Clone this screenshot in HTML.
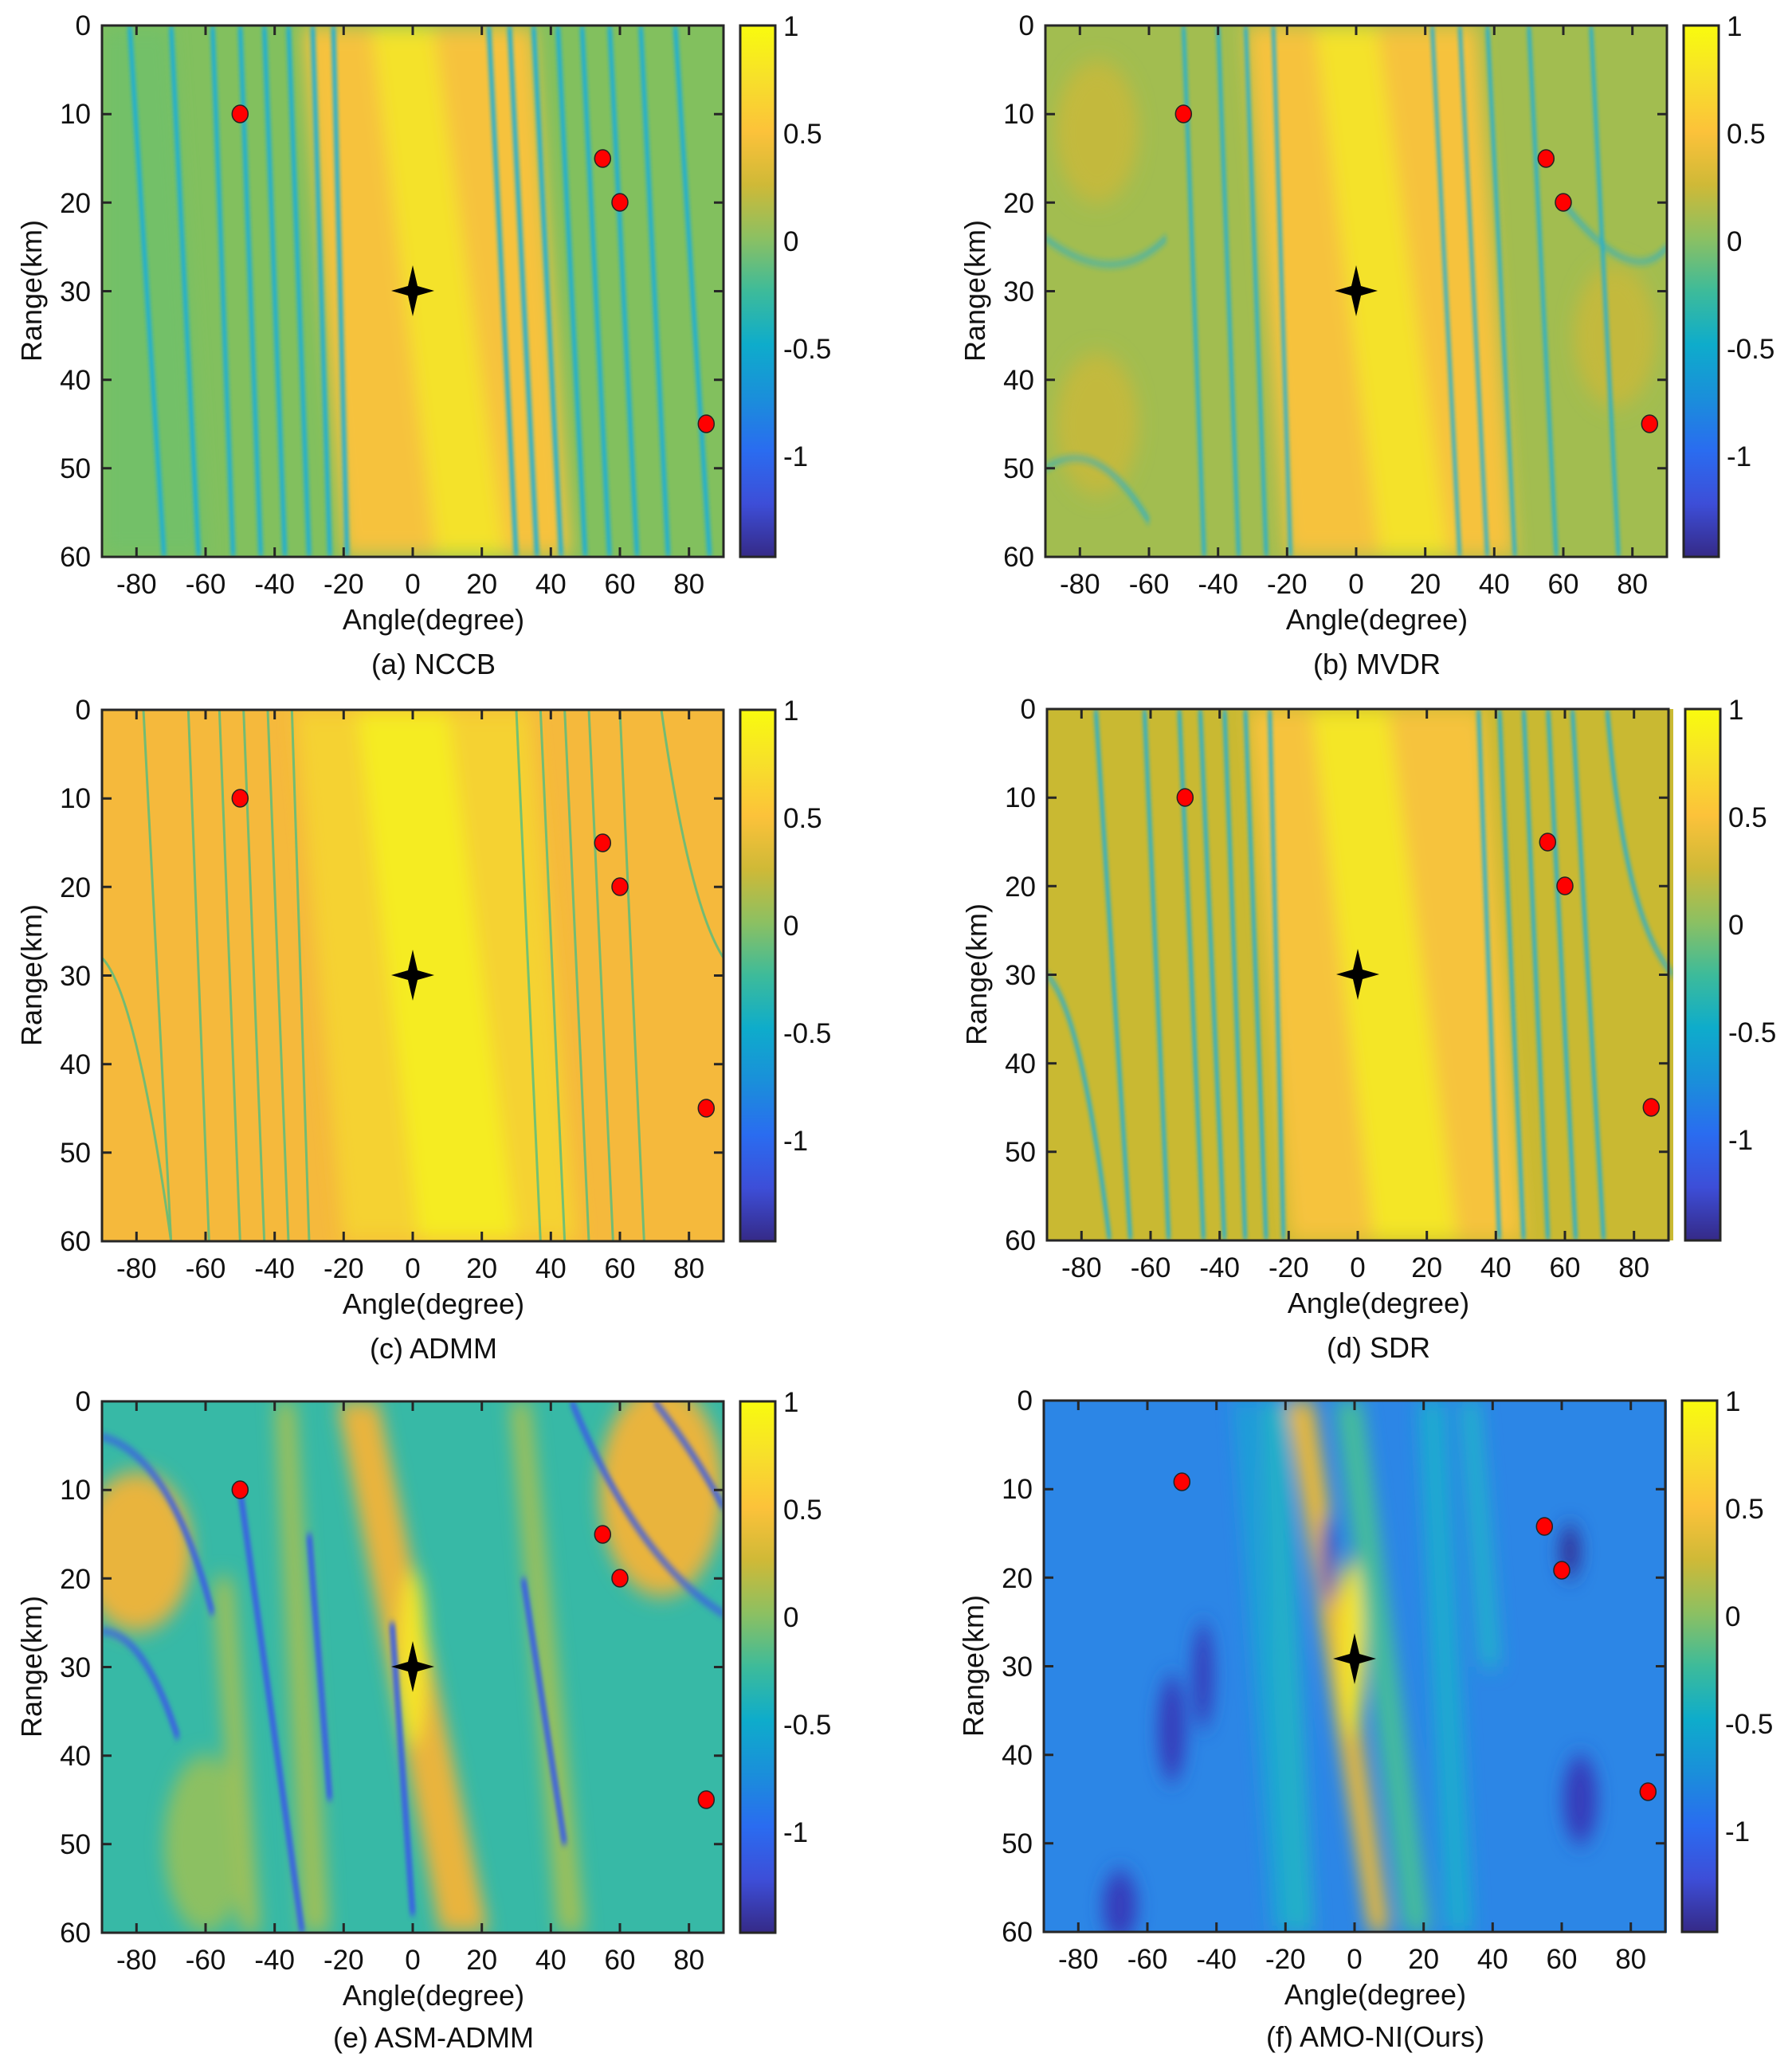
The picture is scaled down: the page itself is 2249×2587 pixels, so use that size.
<!DOCTYPE html>
<html><head><meta charset="utf-8"><style>
html,body{margin:0;padding:0;background:#fff;}
svg{display:block;}
text{font-family:"Liberation Sans",sans-serif;fill:#111;}
</style></head><body>
<svg width="2249" height="2587" viewBox="0 0 2249 2587" xmlns="http://www.w3.org/2000/svg">
<defs>
<linearGradient id="cb" x1="0" y1="0" x2="0" y2="1">
<stop offset="0" stop-color="#f9fb0e"/>
<stop offset="0.1" stop-color="#f7e02a"/>
<stop offset="0.2" stop-color="#fcc23a"/>
<stop offset="0.3" stop-color="#cfb937"/>
<stop offset="0.4" stop-color="#8cc062"/>
<stop offset="0.5" stop-color="#3dbb9a"/>
<stop offset="0.6" stop-color="#0eaccb"/>
<stop offset="0.7" stop-color="#1a8fda"/>
<stop offset="0.8" stop-color="#2a6cf0"/>
<stop offset="0.9" stop-color="#3d4ed8"/>
<stop offset="1" stop-color="#352a87"/>
</linearGradient>
<filter id="bl" x="-10%" y="-10%" width="120%" height="120%"><feGaussianBlur stdDeviation="0.5 0.4"/></filter>
<filter id="bl2" x="-20%" y="-20%" width="140%" height="140%"><feGaussianBlur stdDeviation="2.5 1.2"/></filter>
<g id="axes">
<rect x="0" y="0" width="780" height="667" fill="none" stroke="#262626" stroke-width="3"/>
<g stroke="#262626" stroke-width="3">
<path d="M43.3,667v-12M130,667v-12M216.7,667v-12M303.3,667v-12M390,667v-12M476.7,667v-12M563.3,667v-12M650,667v-12M736.7,667v-12"/>
<path d="M43.3,0v12M130,0v12M216.7,0v12M303.3,0v12M390,0v12M476.7,0v12M563.3,0v12M650,0v12M736.7,0v12"/>
<path d="M0,111.2h12M0,222.3h12M0,333.5h12M0,444.7h12M0,555.8h12"/>
<path d="M780,111.2h-12M780,222.3h-12M780,333.5h-12M780,444.7h-12M780,555.8h-12"/>
</g>
<g font-size="35" text-anchor="middle">
<text x="43.3" y="713">-80</text><text x="130" y="713">-60</text><text x="216.7" y="713">-40</text><text x="303.3" y="713">-20</text><text x="390" y="713">0</text><text x="476.7" y="713">20</text><text x="563.3" y="713">40</text><text x="650" y="713">60</text><text x="736.7" y="713">80</text>
</g>
<g font-size="35" text-anchor="end">
<text x="-14" y="12">0</text><text x="-14" y="123">10</text><text x="-14" y="235">20</text><text x="-14" y="346">30</text><text x="-14" y="457">40</text><text x="-14" y="568">50</text><text x="-14" y="679">60</text>
</g>
<text font-size="36" text-anchor="middle" transform="translate(-76,333) rotate(-90)">Range(km)</text>
<text font-size="36" x="416" y="758" text-anchor="middle">Angle(degree)</text>
<rect x="801" y="0" width="44" height="667" fill="url(#cb)" stroke="#262626" stroke-width="3"/>
<g font-size="35">
<text x="855" y="13">1</text><text x="855" y="148">0.5</text><text x="855" y="283">0</text><text x="855" y="418">-0.5</text><text x="855" y="553">-1</text>
</g>
</g>
<g id="mk" stroke="#222" stroke-width="1.5" fill="#f00">
<ellipse cx="173.3" cy="111" rx="10" ry="11"/>
<ellipse cx="628.3" cy="167" rx="10" ry="11"/>
<ellipse cx="650" cy="222" rx="10" ry="11"/>
<ellipse cx="758.3" cy="500" rx="10" ry="11"/>
<path d="M390,301 L396,327 L417,333 L396,339 L390,365 L384,339 L363,333 L384,327 Z" fill="#000" stroke="none"/>
</g>
</defs>

<!-- (a) NCCB -->
<g transform="translate(128,32)">
<svg x="0" y="0" width="780" height="667" viewBox="0 0 180 60" preserveAspectRatio="none">
<rect width="180" height="60" fill="#82c05e"/>
<g filter="url(#bl2)">
<polygon points="0,0 20,0 30,60 0,60" fill="#6cc06c" opacity="0.7"/>
<polygon points="58,0 125,0 136,60 70,60" fill="#f6c23e"/>
<polygon points="78,0 96,0 117,60 97,60" fill="#f4e22a"/>
</g>
<g filter="url(#bl)" stroke="#1aaedb" stroke-width="6" opacity="0.9" fill="none">
<path d="M8,0 L18,60" vector-effect="non-scaling-stroke"/><path d="M20,0 L28,60" vector-effect="non-scaling-stroke"/><path d="M32,0 L38,60" vector-effect="non-scaling-stroke"/><path d="M40,0 L46,60" vector-effect="non-scaling-stroke"/><path d="M47,0 L53,60" vector-effect="non-scaling-stroke"/><path d="M54,0 L60,60" vector-effect="non-scaling-stroke"/><path d="M61,0 L66,60" vector-effect="non-scaling-stroke"/><path d="M67,0 L71,60" vector-effect="non-scaling-stroke"/>
<path d="M112,0 L120,60" vector-effect="non-scaling-stroke"/><path d="M118,0 L126,60" vector-effect="non-scaling-stroke"/><path d="M125,0 L133,60" vector-effect="non-scaling-stroke"/><path d="M132,0 L140,60" vector-effect="non-scaling-stroke"/><path d="M139,0 L147,60" vector-effect="non-scaling-stroke"/><path d="M147,0 L155,60" vector-effect="non-scaling-stroke"/><path d="M156,0 L164,60" vector-effect="non-scaling-stroke"/><path d="M166,0 L176,60" vector-effect="non-scaling-stroke"/>
</g>
</svg>
<use href="#axes"/><use href="#mk"/>
<text font-size="36" x="416" y="814" text-anchor="middle">(a) NCCB</text>
</g>

<!-- (b) MVDR -->
<g transform="translate(1312,32)">
<svg x="0" y="0" width="780" height="667" viewBox="0 0 180 60" preserveAspectRatio="none">
<rect width="180" height="60" fill="#a2bd50"/>
<g filter="url(#bl2)">
<ellipse cx="15" cy="12" rx="12" ry="8" fill="#c3b93c"/>
<ellipse cx="15" cy="45" rx="12" ry="8" fill="#c3b93c"/>
<ellipse cx="165" cy="35" rx="12" ry="8" fill="#c3b93c"/>
<polygon points="58,0 125,0 136,60 70,60" fill="#f6c23e"/>
<polygon points="78,0 96,0 117,60 97,60" fill="#f4e22a"/>
</g>
<g filter="url(#bl)" stroke="#1aaedb" stroke-width="5" opacity="0.85" fill="none">
<path d="M40,0 L46,60" vector-effect="non-scaling-stroke"/><path d="M50,0 L56,60" vector-effect="non-scaling-stroke"/><path d="M58,0 L64,60" vector-effect="non-scaling-stroke"/><path d="M66,0 L71,60" vector-effect="non-scaling-stroke"/>
<path d="M112,0 L120,60" vector-effect="non-scaling-stroke"/><path d="M120,0 L128,60" vector-effect="non-scaling-stroke"/><path d="M128,0 L136,60" vector-effect="non-scaling-stroke"/><path d="M140,0 L148,60" vector-effect="non-scaling-stroke"/><path d="M158,0 L166,60" vector-effect="non-scaling-stroke"/>
<path d="M0,24 Q20,30 35,24" vector-effect="non-scaling-stroke"/><path d="M0,50 Q15,46 30,56" vector-effect="non-scaling-stroke"/><path d="M150,20 Q170,30 180,25" vector-effect="non-scaling-stroke"/>
</g>
</svg>
<use href="#axes"/><use href="#mk"/>
<text font-size="36" x="416" y="814" text-anchor="middle">(b) MVDR</text>
</g>

<!-- (c) ADMM -->
<g transform="translate(128,891)">
<svg x="0" y="0" width="780" height="667" viewBox="0 0 180 60" preserveAspectRatio="none">
<rect width="180" height="60" fill="#f5b93c"/>
<g filter="url(#bl2)">
<polygon points="56,0 124,0 138,60 70,60" fill="#f5d232"/>
<polygon points="74,0 100,0 120,60 92,60" fill="#f5ec22"/>
</g>
<g stroke="#48bc86" stroke-width="3" opacity="0.75" fill="none">
<path d="M12,0 L20,60" vector-effect="non-scaling-stroke"/><path d="M25,0 L31,60" vector-effect="non-scaling-stroke"/><path d="M34,0 L40,60" vector-effect="non-scaling-stroke"/><path d="M41,0 L47,60" vector-effect="non-scaling-stroke"/><path d="M48,0 L54,60" vector-effect="non-scaling-stroke"/><path d="M55,0 L60,60" vector-effect="non-scaling-stroke"/>
<path d="M120,0 L127,60" vector-effect="non-scaling-stroke"/><path d="M127,0 L134,60" vector-effect="non-scaling-stroke"/><path d="M134,0 L141,60" vector-effect="non-scaling-stroke"/><path d="M141,0 L148,60" vector-effect="non-scaling-stroke"/><path d="M150,0 L157,60" vector-effect="non-scaling-stroke"/><path d="M162,0 Q170,22 180,28" vector-effect="non-scaling-stroke"/>
<path d="M0,28 Q10,32 20,60" vector-effect="non-scaling-stroke"/>
</g>
</svg>
<use href="#axes"/><use href="#mk"/>
<text font-size="36" x="416" y="814" text-anchor="middle">(c) ADMM</text>
</g>

<!-- (d) SDR -->
<g transform="translate(1314,890)">
<svg x="0" y="0" width="786" height="667" viewBox="0 0 180 60" preserveAspectRatio="none">
<rect width="180" height="60" fill="#c9b932"/>
<g filter="url(#bl2)">
<polygon points="58,0 125,0 137,60 70,60" fill="#f6c33c"/>
<polygon points="76,0 98,0 118,60 94,60" fill="#f4e628"/>
</g>
<g filter="url(#bl)" stroke="#1aaedb" stroke-width="5" opacity="0.9" fill="none">
<path d="M14,0 L24,60" vector-effect="non-scaling-stroke"/><path d="M28,0 L35,60" vector-effect="non-scaling-stroke"/><path d="M38,0 L45,60" vector-effect="non-scaling-stroke"/><path d="M44,0 L51,60" vector-effect="non-scaling-stroke"/><path d="M51,0 L57,60" vector-effect="non-scaling-stroke"/><path d="M57,0 L63,60" vector-effect="non-scaling-stroke"/><path d="M64,0 L68,60" vector-effect="non-scaling-stroke"/>
<path d="M124,0 L130,60" vector-effect="non-scaling-stroke"/><path d="M130,0 L137,60" vector-effect="non-scaling-stroke"/><path d="M137,0 L144,60" vector-effect="non-scaling-stroke"/><path d="M144,0 L152,60" vector-effect="non-scaling-stroke"/><path d="M151,0 L160,60" vector-effect="non-scaling-stroke"/><path d="M161,0 Q166,24 180,30" vector-effect="non-scaling-stroke"/>
<path d="M0,30 Q10,34 18,60" vector-effect="non-scaling-stroke"/>
</g>
</svg>
<use href="#axes"/><use href="#mk"/>
<text font-size="36" x="416" y="814" text-anchor="middle">(d) SDR</text>
</g>

<!-- (e) ASM-ADMM -->
<g transform="translate(128,1759)">
<svg x="0" y="0" width="780" height="667" viewBox="0 0 180 60" preserveAspectRatio="none">
<rect width="180" height="60" fill="#37b9a6"/>
<g filter="url(#bl2)">
<ellipse cx="10" cy="17" rx="16" ry="9" fill="#e9b43c"/>
<ellipse cx="162" cy="10" rx="18" ry="12" fill="#e9b43c"/>
<ellipse cx="30" cy="50" rx="12" ry="10" fill="#8cc062"/>
<polygon points="68,0 80,0 112,60 98,60" fill="#e9b43c"/>
<polygon points="50,0 56,0 66,60 58,60" fill="#9cc05a"/>
<polygon points="118,0 124,0 140,60 132,60" fill="#9cc05a"/>
<polygon points="32,20 38,20 46,60 40,60" fill="#9cc05a"/>
<ellipse cx="90" cy="29" rx="4" ry="10" fill="#f5e628"/>
</g>
<g filter="url(#bl)" stroke="#3b5be6" stroke-width="8" opacity="0.85" fill="none">
<path d="M0,4 Q20,6 32,24" vector-effect="non-scaling-stroke"/><path d="M0,26 Q12,26 22,38" vector-effect="non-scaling-stroke"/>
<path d="M40,10 L58,60" vector-effect="non-scaling-stroke"/><path d="M60,15 L66,45" vector-effect="non-scaling-stroke"/><path d="M84,25 L90,58" vector-effect="non-scaling-stroke"/>
<path d="M136,0 Q155,18 180,24" vector-effect="non-scaling-stroke"/><path d="M160,0 Q172,6 180,12" vector-effect="non-scaling-stroke"/><path d="M122,20 L134,50" vector-effect="non-scaling-stroke"/>
</g>
</svg>
<use href="#axes"/><use href="#mk"/>
<text font-size="36" x="416" y="811" text-anchor="middle">(e) ASM-ADMM</text>
</g>

<!-- (f) AMO-NI(Ours) -->
<g transform="translate(1310,1758)">
<svg x="0" y="0" width="782" height="668" viewBox="0 0 180 60" preserveAspectRatio="none">
<rect width="180" height="60" fill="#2c86e6"/>
<g filter="url(#bl2)">
<polygon points="55,0 60,0 72,60 66,60" fill="#1fa2d6"/>
<polygon points="62,0 70,0 78,60 70,60" fill="#23b0c8"/>
<polygon points="84,0 92,0 112,60 104,60" fill="#45bc9c"/>
<polygon points="108,0 116,0 124,60 116,60" fill="#1faad0"/>
<polygon points="120,0 126,0 132,30 126,30" fill="#22aece"/>
<polygon points="70,0 78,0 100,60 94,60" fill="#e8b83a"/>
<ellipse cx="89" cy="28" rx="3.5" ry="10" fill="#f5e628"/>
<ellipse cx="37" cy="37" rx="4" ry="6" fill="#353dbb"/>
<ellipse cx="46" cy="31" rx="3" ry="6" fill="#353dbb"/>
<ellipse cx="22" cy="57" rx="5" ry="4" fill="#353dbb"/>
<ellipse cx="155" cy="45" rx="5" ry="5" fill="#353dbb"/>
<ellipse cx="152" cy="17" rx="3" ry="3" fill="#30309a"/>
<ellipse cx="82" cy="18" rx="2" ry="5" fill="#3540c0"/>
</g>
</svg>
<use href="#axes"/>
<g transform="translate(0,-9)"><use href="#mk"/></g>
<text font-size="36" x="416" y="811" text-anchor="middle">(f) AMO-NI(Ours)</text>
</g>
</svg>
</body></html>
